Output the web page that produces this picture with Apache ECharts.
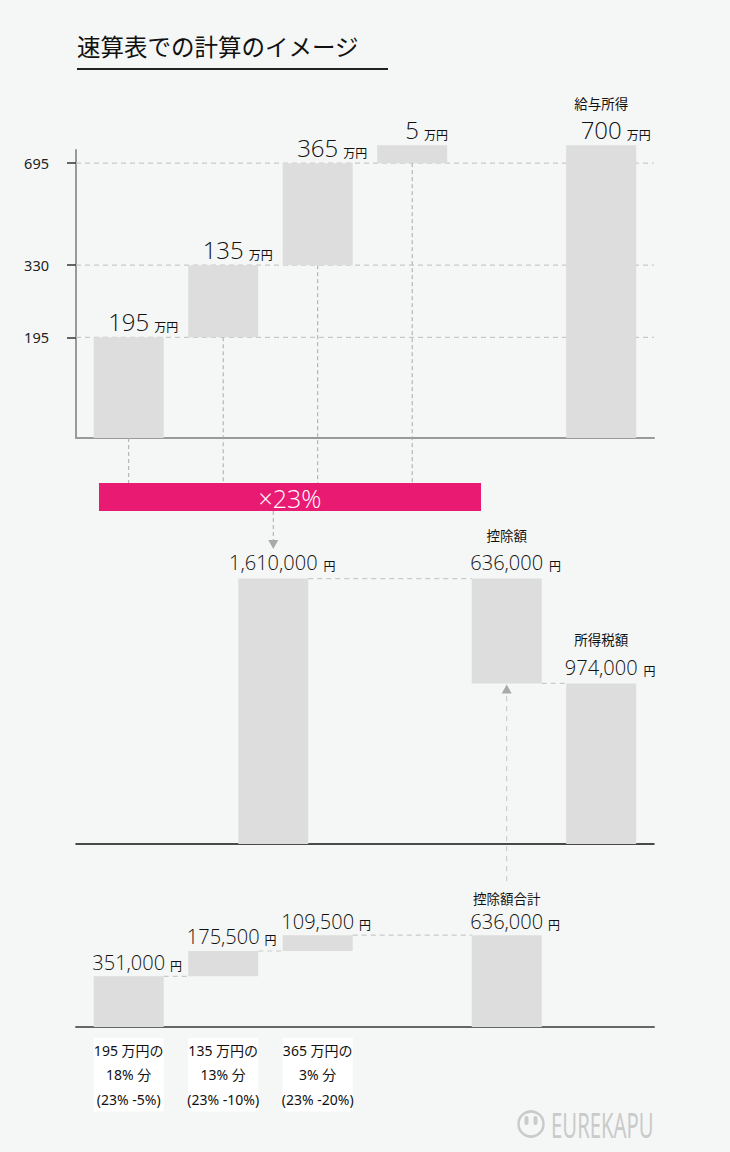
<!DOCTYPE html>
<html><head><meta charset="utf-8">
<script src="https://cdn.jsdelivr.net/npm/echarts@6/dist/echarts.min.js"></script>
<style>html,body{margin:0;padding:0;background:#f5f7f6;}#c{width:730px;height:1152px;}</style>
</head><body><div id="c"></div>
<script>
// ---------------- data ----------------
const chartTitle = '速算表での計算のイメージ';
const salarySteps = [195, 135, 365, 5];            // 万円, bracket slices of salary income
const salaryTotal = 700;                            // 万円
const salaryTotalCaption = '給与所得';
const salaryTicks = [195, 330, 695];                // y-axis tick labels
const salaryUnit = '万円';
const rateLabel = '×23%';
const taxCategories = ['控除前の税額', '控除額', '所得税額'];
const taxCaptions = ['', '控除額', '所得税額'];
const taxValues = [1610000, 636000, 974000];        // 円
const deductionSteps = [351000, 175500, 109500];    // 円
const deductionTotal = 636000;                      // 円
const deductionTotalCaption = '控除額合計';
const deductionCategoryLabels = [
  '195 万円の\n18% 分\n(23% -5%)',
  '135 万円の\n13% 分\n(23% -10%)',
  '365 万円の\n3% 分\n(23% -20%)'
];
const yenUnit = '円';
const brandName = 'EUREKAPU';

// ---------------- layout / style ----------------
const BG = '#f5f7f6', BAR = '#dcdddc', INK = '#111111';
const NUM_FONT = '"Open Sans", "Noto Sans", "Noto Sans CJK JP", sans-serif';
const NUM_WEIGHT = 350;
const JP_FONT = '"Noto Sans CJK JP", "Noto Sans", sans-serif';
const GRID_L = 76, GRID_R = 76;
const X_MIN = -0.5577, X_MAX = 5.5587;
const BAR_W = 70;
const MIN_H = 18;               // minimum visible height of a tiny segment
const topSlots = [0, 1, 2, 3, 5];
const midSlots = [1.53, 4, 5];
const botSlots = [0, 1, 2, 4];
const PINK_TOP = 483, PINK_BOTTOM = 511;

const fmt = v => v.toLocaleString('en-US');
const mctx = document.createElement('canvas').getContext('2d');
function textW(t, size, fam, wt) { mctx.font = (wt || 'normal') + ' ' + size + 'px ' + fam; return mctx.measureText(t).width; }

// ---------------- items ----------------
let run = 0;
const topItems = salarySteps.map((v, i) => { const it = {slot: topSlots[i], base: run, top: run + v, num: String(v)}; run += v; return it; });
topItems.push({slot: topSlots[4], base: 0, top: salaryTotal, num: String(salaryTotal), caption: salaryTotalCaption, total: true});

const midItems = [
  {slot: midSlots[0], base: 0, top: taxValues[0], num: fmt(taxValues[0]), caption: taxCaptions[0]},
  {slot: midSlots[1], base: taxValues[0] - taxValues[1], top: taxValues[0], num: fmt(taxValues[1]), caption: taxCaptions[1], level: taxValues[0]},
  {slot: midSlots[2], base: 0, top: taxValues[2], num: fmt(taxValues[2]), caption: taxCaptions[2], level: taxValues[0] - taxValues[1]}
];

run = 0;
const botItems = deductionSteps.map((v, i) => { const it = {slot: botSlots[i], base: run, top: run + v, num: fmt(v), level: i > 0 ? run : null}; run += v; return it; });
botItems.push({slot: botSlots[3], base: 0, top: deductionTotal, num: fmt(deductionTotal), caption: deductionTotalCaption, level: run});

function labelEls(cx, yt, it, cfg) {
  const els = [];
  const w = textW(it.num, cfg.numSize, NUM_FONT, NUM_WEIGHT);
  const cy = yt - cfg.numGap;
  els.push({type: 'text', x: cx, y: cy, z2: 20, style: {text: it.num, fontSize: cfg.numSize, fontFamily: NUM_FONT, fontWeight: NUM_WEIGHT, fill: INK, align: 'center', verticalAlign: 'middle'}});
  els.push({type: 'text', x: cx + w / 2 + cfg.unitGap, y: cy + cfg.unitDy, z2: 20, style: {text: cfg.unit, fontSize: 12, fontFamily: JP_FONT, fill: INK, align: 'left', verticalAlign: 'middle'}});
  if (it.caption) {
    els.push({type: 'text', x: cx, y: yt - cfg.capGap, z2: 20, style: {text: it.caption, fontSize: 13.5, fontFamily: JP_FONT, fill: INK, align: 'center', verticalAlign: 'middle'}});
  }
  return els;
}
function barEl(cx, yt, yb) {
  return {type: 'rect', z2: 10, shape: {x: cx - BAR_W / 2, y: yt, width: BAR_W, height: yb - yt}, style: {fill: BAR}};
}
const dashStyle = {stroke: '#c9c9c9', lineWidth: 1.2, lineDash: [5, 4]};

function renderTop(params, api) {
  const cs = params.coordSys, bottom = cs.y + cs.height;
  const py = v => v <= 0 ? bottom : api.coord([0, v])[1];
  const stepPix = k => { const s = topItems[k]; const yb = py(s.base); let yt = py(s.top); if (yb - yt < MIN_H) yt = yb - MIN_H; return [yb, yt]; };
  const i = params.dataIndex, it = topItems[i];
  const cx = api.coord([it.slot, it.top])[0];
  let yb, yt;
  if (it.total) { yb = bottom; yt = Math.min(py(it.top), stepPix(i - 1)[1]); }
  else { [yb, yt] = stepPix(i); }
  const els = [barEl(cx, yt, yb)];
  if (!it.total) {
    if (it.base > 0) els.push({type: 'line', z2: 1, shape: {x1: cs.x, y1: yb, x2: cs.x + cs.width, y2: yb}, style: dashStyle});
    els.push({type: 'line', z2: 1, shape: {x1: cx, y1: yb, x2: cx, y2: PINK_TOP}, style: {stroke: '#a8a8a8', lineWidth: 1, lineDash: [4, 3]}});
  }
  return {type: 'group', children: els.concat(labelEls(cx, yt, it, {numSize: 24, numGap: 16, unit: salaryUnit, unitGap: 5, unitDy: 5, capGap: 42}))};
}
function makeRender(items, cfg) {
  return function (params, api) {
    const cs = params.coordSys, bottom = cs.y + cs.height;
    const py = v => v <= 0 ? bottom : api.coord([0, v])[1];
    const i = params.dataIndex, it = items[i];
    const cx = api.coord([it.slot, it.top])[0];
    const yb = py(it.base), yt = py(it.top);
    const els = [barEl(cx, yt, yb)];
    if (it.level != null && i > 0) {
      const pcx = api.coord([items[i - 1].slot, it.level])[0];
      const ly = py(it.level);
      els.push({type: 'line', z2: 1, shape: {x1: pcx + BAR_W / 2, y1: ly, x2: cx - BAR_W / 2, y2: ly}, style: dashStyle});
    }
    return {type: 'group', children: els.concat(labelEls(cx, yt, it, cfg))};
  };
}

const chart = echarts.init(document.getElementById('c'), null, {renderer: 'svg', width: 730, height: 1152});
const hiddenX = (gi, lineColor, lineWidth, extra) => Object.assign({
  type: 'value', gridIndex: gi, min: X_MIN, max: X_MAX,
  axisLine: {show: true, onZero: false, lineStyle: {color: lineColor, width: lineWidth}},
  axisTick: {show: false}, axisLabel: {show: false}, splitLine: {show: false}
}, extra || {});

chart.setOption({
  animation: false,
  backgroundColor: BG,
  grid: [
    {left: GRID_L, right: GRID_R, top: 150, height: 288},
    {left: GRID_L, right: GRID_R, top: 547.2, height: 296.8},
    {left: GRID_L, right: GRID_R, top: 911.5, height: 115.5}
  ],
  xAxis: [
    hiddenX(0, '#9a9a9a', 2),
    hiddenX(1, '#111', 1.5),
    hiddenX(2, '#666', 2, {axisLabel: {
      show: true, customValues: botSlots.slice(0, 3), formatter: v => deductionCategoryLabels[botSlots.indexOf(Math.round(v))] || '',
      margin: 11, fontSize: 14, lineHeight: 24.5, color: INK, fontFamily: '"Noto Sans", "Noto Sans CJK JP", sans-serif',
      backgroundColor: '#ffffff', width: BAR_W, align: 'center', overflow: 'none', hideOverlap: false
    }})
  ],
  yAxis: [
    {type: 'log', gridIndex: 0, min: 93.5, max: 765, logBase: 10,
     axisLine: {show: true, onZero: false, lineStyle: {color: '#9a9a9a', width: 2}},
     axisTick: {show: true, customValues: salaryTicks, length: 9, lineStyle: {color: '#333', width: 1.5}},
     axisLabel: {show: true, customValues: salaryTicks, margin: 27, fontSize: 14.5, color: '#222', fontFamily: '"Noto Sans", sans-serif'},
     splitLine: {show: false}},
    {type: 'value', gridIndex: 1, min: 0, max: 1800000, show: false, axisLine: {onZero: false}, splitLine: {show: false}},
    {type: 'value', gridIndex: 2, min: 0, max: 800000, show: false, axisLine: {onZero: false}, splitLine: {show: false}}
  ],
  series: [
    {type: 'custom', name: 'salary', xAxisIndex: 0, yAxisIndex: 0, clip: false, encode: {x: 0, y: 2},
     data: topItems.map(it => [it.slot, it.base, it.top]), renderItem: renderTop},
    {type: 'custom', name: taxCategories.join('/'), xAxisIndex: 1, yAxisIndex: 1, clip: false, encode: {x: 0, y: 2},
     data: midItems.map(it => [it.slot, it.base, it.top]),
     renderItem: makeRender(midItems, {numSize: 20, numGap: 16, unit: yenUnit, unitGap: 6, unitDy: 3, capGap: 44})},
    {type: 'custom', name: 'deduction', xAxisIndex: 2, yAxisIndex: 2, clip: false, encode: {x: 0, y: 2},
     data: botItems.map(it => [it.slot, it.base, it.top]),
     renderItem: makeRender(botItems, {numSize: 20, numGap: 14, unit: yenUnit, unitGap: 5, unitDy: 3, capGap: 37})}
  ]
});

// annotation graphics positioned from the scales
const pDown = chart.convertToPixel({gridIndex: 1}, [midSlots[0], taxValues[0]]);
const pUp = chart.convertToPixel({gridIndex: 1}, [midSlots[1], taxValues[0] - taxValues[1]]);
const pTot = chart.convertToPixel({gridIndex: 2}, [botSlots[3], deductionTotal]);
const arrowGrey = '#a9a9a9';
const upStart = pTot[1] - 37 - 17;
chart.setOption({
  graphic: [
    {type: 'text', left: 77, top: 34, style: {text: chartTitle, fontSize: 23.5, fontFamily: JP_FONT, fill: INK}},
    {type: 'line', shape: {x1: 77, y1: 69, x2: 388, y2: 69}, style: {stroke: '#222', lineWidth: 2}},
    {type: 'rect', shape: {x: 99, y: PINK_TOP, width: 382, height: PINK_BOTTOM - PINK_TOP}, style: {fill: '#e91a72'}},
    {type: 'text', x: 290, y: 497.5, style: {text: rateLabel, fontSize: 25, fontFamily: NUM_FONT, fontWeight: NUM_WEIGHT, fill: '#ffffff', align: 'center', verticalAlign: 'middle'}},
    {type: 'line', shape: {x1: pDown[0], y1: PINK_BOTTOM, x2: pDown[0], y2: 541}, style: {stroke: arrowGrey, lineWidth: 1, lineDash: [4, 3]}},
    {type: 'polygon', shape: {points: [[pDown[0] - 5, 540], [pDown[0] + 5, 540], [pDown[0], 549]]}, style: {fill: arrowGrey}},
    {type: 'line', shape: {x1: pUp[0], y1: upStart, x2: pUp[0], y2: pUp[1] + 9}, style: {stroke: '#c4c4c4', lineWidth: 1, lineDash: [5, 5]}},
    {type: 'polygon', shape: {points: [[pUp[0] - 5, pUp[1] + 10], [pUp[0] + 5, pUp[1] + 10], [pUp[0], pUp[1] + 1]]}, style: {fill: arrowGrey}},
    {type: 'circle', shape: {cx: 531, cy: 1124, r: 12.5}, style: {fill: 'none', stroke: '#cacaca', lineWidth: 2.5}},
    {type: 'rect', shape: {x: 524.5, y: 1116, width: 4, height: 9, r: 2}, style: {fill: '#cacaca'}},
    {type: 'rect', shape: {x: 533.5, y: 1116, width: 4, height: 9, r: 2}, style: {fill: '#cacaca'}},
    {type: 'text', x: 551, y: 1124, scaleX: 0.58, style: {text: brandName, fontSize: 35, fontFamily: '"Noto Sans", sans-serif', fill: '#cacaca', align: 'left', verticalAlign: 'middle'}}
  ]
});
</script></body></html>
